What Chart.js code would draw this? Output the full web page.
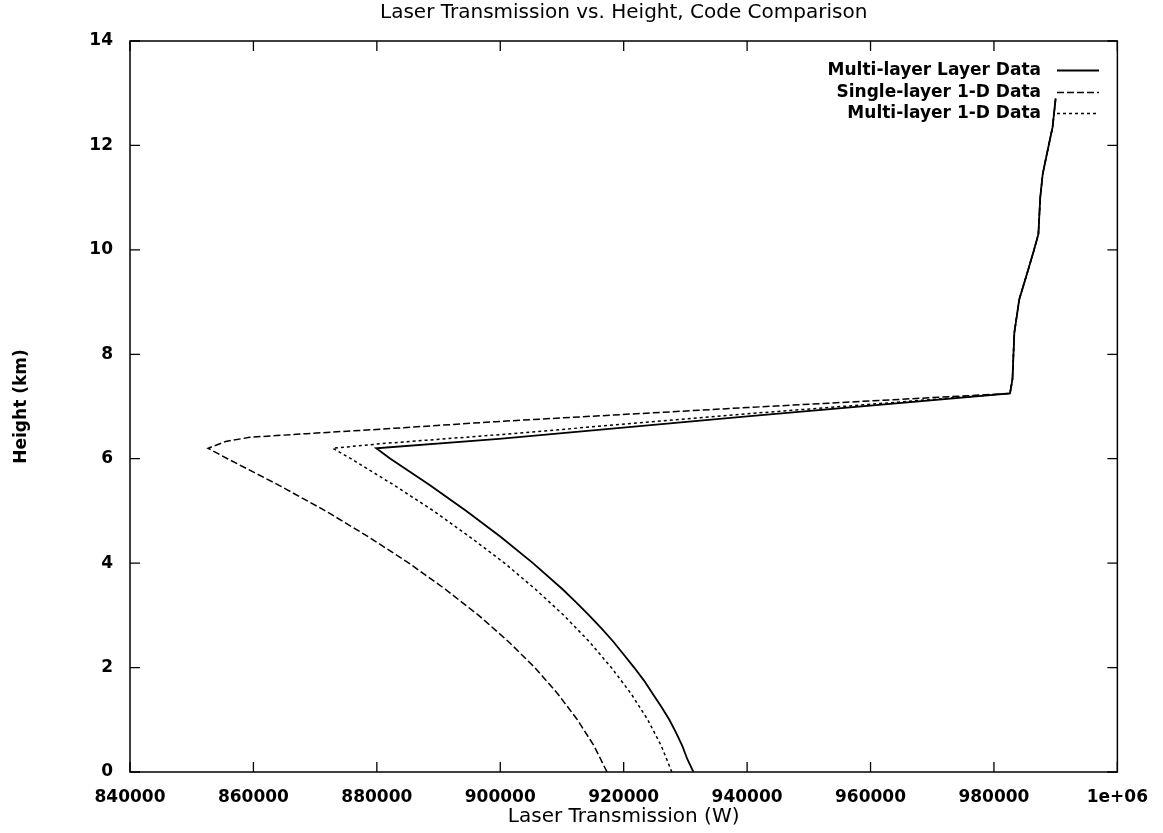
<!DOCTYPE html>
<html>
<head>
<meta charset="utf-8">
<script src="https://cdn.jsdelivr.net/npm/chart.js@4/dist/chart.umd.min.js"></script>
<style>
  html, body { margin: 0; padding: 0; background: #fff; }
  #wrap { width: 1163px; height: 833px; }
</style>
</head>
<body>
<div id="wrap"><canvas id="c" width="1163" height="833"></canvas></div>
<script>
// ---- data ----
const seriesNames = ['Multi-layer Layer Data', 'Single-layer 1-D Data', 'Multi-layer 1-D Data'];

const multiLayerX = [931300, 930300, 929500, 928500, 927400, 926100, 924700, 923300, 921700, 920000, 918300, 916400, 914400, 912300, 910100,
  905300, 900100, 894500, 888500, 882200, 879900,
  899800, 940000, 982600, 983000, 983300, 984100, 985500, 986500, 987200, 987500, 987900, 988600, 989500, 990000];
const multiLayerY = [0, 0.25, 0.5, 0.75, 1.0, 1.25, 1.5, 1.75, 2.0, 2.25, 2.5, 2.75, 3.0, 3.25, 3.5,
  4.0, 4.5, 5.0, 5.5, 6.0, 6.2,
  6.38, 6.81, 7.25, 7.52, 8.41, 9.05, 9.6, 10.0, 10.3, 11.0, 11.45, 11.85, 12.35, 12.9];

const singleLayerX = [917300, 915200, 912500, 909300, 905600, 901300, 896500, 891100, 885200, 878700, 871700, 864000, 855800, 852650,
  855500, 859400, 868550, 879900, 899250, 940000, 982600, 983000, 983300, 984100, 985500, 986500, 987200, 987500, 987900, 988600, 989500, 990000];
const singleLayerY = [0, 0.5, 1.0, 1.5, 2.0, 2.5, 3.0, 3.5, 4.0, 4.5, 5.0, 5.5, 6.0, 6.2,
  6.33, 6.41, 6.48, 6.56, 6.71, 6.98, 7.25, 7.52, 8.41, 9.05, 9.6, 10.0, 10.3, 11.0, 11.45, 11.85, 12.35, 12.9];

const multiLayer1DX = [927800, 926100, 923900, 921200, 918000, 914400, 910300, 905700, 900700, 895100, 889200, 882700, 875800, 872850,
  880900, 899800, 940000, 982600, 983000, 983300, 984100, 985500, 986500, 987200, 987500, 987900, 988600, 989500, 990000];
const multiLayer1DY = [0, 0.5, 1.0, 1.5, 2.0, 2.5, 3.0, 3.5, 4.0, 4.5, 5.0, 5.5, 6.0, 6.2,
  6.29, 6.46, 6.86, 7.25, 7.52, 8.41, 9.05, 9.6, 10.0, 10.3, 11.0, 11.45, 11.85, 12.35, 12.9];

const xTicks = [840000, 860000, 880000, 900000, 920000, 940000, 960000, 980000, 1000000];
const xTickLabels = ['840000', '860000', '880000', '900000', '920000', '940000', '960000', '980000', '1e+06'];
const yTicks = [0, 2, 4, 6, 8, 10, 12, 14];

// ---- chart ----
const toPts = (xs, ys) => xs.map((x, i) => ({ x: x, y: ys[i] }));
const dashes = [[], [7, 3], [3, 3]];
const widths = [1.8, 1.5, 1.5];

const FONT = '"DejaVu Sans", "Liberation Sans", sans-serif';

const frameAndTicks = {
  id: 'frameAndTicks',
  afterDatasetsDraw(chart) {
    const ctx = chart.ctx;
    const a = chart.chartArea;
    const xs = chart.scales.x, ys = chart.scales.y;
    const L = 10;
    ctx.save();
    ctx.strokeStyle = '#000';
    ctx.lineWidth = 1.5;
    ctx.strokeRect(a.left, a.top, a.right - a.left, a.bottom - a.top);
    ctx.lineWidth = 1.3;
    ctx.beginPath();
    xTicks.forEach(v => {
      const p = xs.getPixelForValue(v);
      ctx.moveTo(p, a.bottom); ctx.lineTo(p, a.bottom - L);
      ctx.moveTo(p, a.top); ctx.lineTo(p, a.top + L);
    });
    yTicks.forEach(v => {
      const p = ys.getPixelForValue(v);
      ctx.moveTo(a.left, p); ctx.lineTo(a.left + L, p);
      ctx.moveTo(a.right, p); ctx.lineTo(a.right - L, p);
    });
    ctx.stroke();

    // key (top right, text right-aligned, sample on the right)
    ctx.font = 'bold 17px ' + FONT;
    ctx.fillStyle = '#000';
    ctx.textAlign = 'right';
    ctx.textBaseline = 'middle';
    const rows = [70.5, 92.5, 113.5];
    chart.data.datasets.forEach((ds, i) => {
      ctx.fillText(ds.label, 1041, rows[i]);
      ctx.beginPath();
      ctx.setLineDash(ds.borderDash || []);
      ctx.lineWidth = ds.borderWidth;
      ctx.moveTo(1057, rows[i]); ctx.lineTo(1099, rows[i]);
      ctx.stroke();
    });
    ctx.restore();
  }
};

const bgPlugin = {
  id: 'bg',
  beforeDraw(chart) {
    const ctx = chart.ctx;
    ctx.save();
    ctx.fillStyle = '#fff';
    ctx.fillRect(0, 0, chart.width, chart.height);
    ctx.restore();
  }
};

new Chart(document.getElementById('c'), {
  type: 'scatter',
  data: {
    datasets: [
      { label: seriesNames[0], data: toPts(multiLayerX, multiLayerY) },
      { label: seriesNames[1], data: toPts(singleLayerX, singleLayerY) },
      { label: seriesNames[2], data: toPts(multiLayer1DX, multiLayer1DY) }
    ].map((d, i) => Object.assign(d, {
      showLine: true, pointRadius: 0, borderColor: '#000', backgroundColor: '#000',
      borderWidth: widths[i], borderDash: dashes[i], tension: 0, fill: false
    }))
  },
  options: {
    responsive: false,
    animation: false,
    layout: { padding: { left: 0, right: 43, top: 0, bottom: 0 } },
    plugins: {
      legend: { display: false },
      tooltip: { enabled: false },
      title: {
        display: true,
        fullSize: false,
        text: 'Laser Transmission vs. Height, Code Comparison',
        color: '#000',
        font: { family: FONT, size: 20, weight: 'normal' },
        padding: { top: 1, bottom: 16 }
      }
    },
    scales: {
      x: {
        type: 'linear', min: 840000, max: 1000000,
        afterFit: s => { s.height = 61; },
        afterBuildTicks: s => { s.ticks = xTicks.map(v => ({ value: v })); },
        grid: { display: false, drawTicks: false },
        border: { display: false },
        ticks: {
          color: '#000', padding: 15, maxRotation: 0, autoSkip: false,
          font: { family: FONT, size: 17, weight: 'bold' },
          callback: v => { const i = xTicks.indexOf(v); return i >= 0 ? xTickLabels[i] : ''; }
        },
        title: {
          display: true, text: 'Laser Transmission (W)', color: '#000',
          font: { family: FONT, size: 20, weight: 'normal' },
          padding: { top: 0, bottom: 4 }
        }
      },
      y: {
        type: 'linear', min: 0, max: 14,
        afterFit: s => { s.width = 130; },
        afterBuildTicks: s => { s.ticks = yTicks.map(v => ({ value: v })); },
        grid: { display: false, drawTicks: false },
        border: { display: false },
        ticks: {
          color: '#000', padding: 17, autoSkip: false,
          font: { family: FONT, size: 17, weight: 'bold' }
        },
        title: {
          display: true, text: 'Height (km)', color: '#000',
          font: { family: FONT, size: 17, weight: 'bold' },
          padding: { top: 11, bottom: 0 }
        }
      }
    }
  },
  plugins: [bgPlugin, frameAndTicks]
});
</script>
</body>
</html>
